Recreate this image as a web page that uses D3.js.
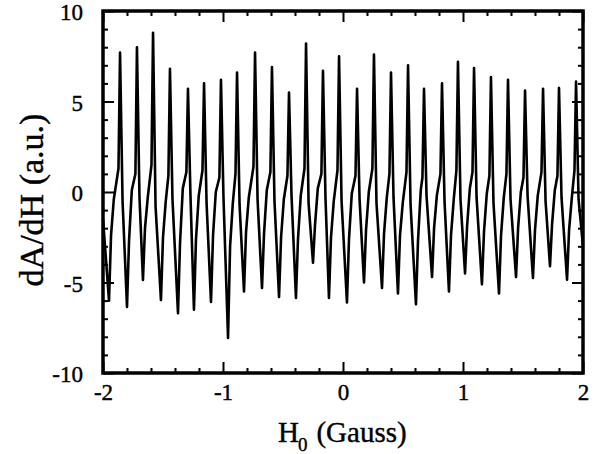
<!DOCTYPE html>
<html lang="en">
<head>
<meta charset="UTF-8">
<title>dA/dH vs H0</title>
<script src="https://d3js.org/d3.v7.min.js"></script>
<style>
    body {
        margin: 0;
        background: #fff;
    }

    #chart text {
        font-family: "Liberation Serif", "Times New Roman", serif;
        fill: #000;
        stroke: #000;
        stroke-width: 0.4px;
    }
</style>
</head>
<body>
<svg id="chart" width="599" height="454"></svg>
<script>
    // spikes: positive peaks and negative troughs
    var peakH = [-1.858, -1.717, -1.583, -1.442, -1.292, -1.158, -1.017, -0.883, -0.733, -0.592,
        -0.450, -0.308, -0.167, -0.033, 0.117, 0.258, 0.400, 0.542, 0.675, 0.825,
        0.958, 1.092, 1.233, 1.375, 1.517, 1.667, 1.800, 1.942];
    var peakV = [7.7, 8.0, 8.8, 6.8, 5.7, 6.0, 6.2, 6.6, 7.7, 6.9,
        5.5, 8.2, 6.7, 7.5, 5.7, 7.6, 6.6, 7.0, 5.7, 6.0,
        7.2, 6.85, 6.35, 6.2, 5.6, 5.7, 5.75, 6.1];
    var troughH = [-1.950, -1.800, -1.667, -1.517, -1.375, -1.242, -1.100, -0.958, -0.825, -0.675,
        -0.533, -0.392, -0.250, -0.117, 0.033, 0.175, 0.325, 0.458, 0.608, 0.742,
        0.883, 1.017, 1.158, 1.300, 1.442, 1.583, 1.725, 1.867];
    var troughV = [-6.0, -6.35, -4.86, -5.97, -6.7, -6.5, -6.08, -8.07, -5.5, -5.3,
        -5.8, -5.85, -3.9, -5.85, -6.1, -5.0, -5.3, -5.6, -6.2, -4.7,
        -5.5, -4.5, -5.1, -5.6, -4.7, -4.75, -4.1, -4.85];

    // smaller features between spikes
    var descentH = [-1.837, -1.696, -1.562, -1.421, -1.271, -1.137, -0.996, -0.862, -0.712, -0.571,
        -0.429, -0.287, -0.146, -0.012, 0.138, 0.279, 0.421, 0.563, 0.696, 0.846,
        0.979, 1.113, 1.254, 1.396, 1.538, 1.688, 1.821, 1.963];
    var descentV = [-0.5, -0.3, -0.8, -0.4, -0.2, -0.6, -0.3, -0.7, -0.4, -0.5,
        -0.2, -0.6, -0.3, -0.5, -0.4, -0.6, -0.3, -0.7, -0.2, -0.5,
        -0.4, -0.3, -0.6, -0.4, -0.2, -0.5, -0.3, -0.4];
    var kneeH = [-1.933, -1.783, -1.650, -1.500, -1.358, -1.225, -1.083, -0.941, -0.808, -0.658,
        -0.516, -0.375, -0.233, -0.100, 0.050, 0.192, 0.342, 0.475, 0.625, 0.759,
        0.900, 1.034, 1.175, 1.317, 1.459, 1.600, 1.742, 1.884];
    var kneeV = [-2.4, -2.7, -2.0, -2.5, -2.8, -2.6, -2.4, -3.0, -2.2, -2.3,
        -2.5, -2.6, -1.8, -2.5, -2.6, -2.1, -2.3, -2.4, -2.7, -2.0,
        -2.4, -1.9, -2.2, -2.4, -2.0, -2.1, -1.8, -2.1];
    var shoulderH = [-1.910, -1.760, -1.627, -1.477, -1.335, -1.202, -1.060, -0.918, -0.785, -0.635,
        -0.493, -0.352, -0.210, -0.077, 0.073, 0.215, 0.365, 0.498, 0.648, 0.782,
        0.923, 1.057, 1.198, 1.340, 1.482, 1.623, 1.765, 1.907];
    var shoulderV = [-0.4, 0.1, -0.3, -0.5, 0.2, -0.2, 0.0, -0.6, -0.3, 0.1,
        -0.4, -0.2, 0.2, -0.5, -0.1, 0.0, -0.3, -0.6, 0.1, -0.2,
        -0.4, 0.2, -0.1, -0.3, 0.0, -0.2, 0.1, -0.3];
    var riseH = [-1.871, -1.730, -1.596, -1.455, -1.305, -1.171, -1.030, -0.896, -0.746, -0.605,
        -0.463, -0.321, -0.180, -0.046, 0.104, 0.245, 0.387, 0.529, 0.662, 0.812,
        0.945, 1.079, 1.220, 1.362, 1.504, 1.654, 1.787, 1.929];
    var riseV = [1.3, 1.0, 1.5, 0.9, 1.1, 1.2, 0.8, 1.0, 1.4, 1.1,
        0.9, 1.3, 1.0, 1.2, 0.9, 1.3, 1.0, 1.1, 0.8, 1.0,
        1.2, 1.1, 0.9, 1.0, 0.8, 1.1, 0.9, 1.2];
    var endH = [-2.0, 2.0];
    var endV = [-1.5, -3.0];

    var xMajorTicks = [-2, -1, 0, 1, 2];
    var xMinorTicks = [-1.8, -1.6, -1.4, -1.2, -0.8, -0.6, -0.4, -0.2, 0.2, 0.4, 0.6, 0.8, 1.2, 1.4, 1.6, 1.8];
    var yMajorTicks = [-10, -5, 0, 5, 10];
    var yMinorTicks = [-9, -8, -7, -6, -4, -3, -2, -1, 1, 2, 3, 4, 6, 7, 8, 9];

    (function () {
        var plotLeft = 103, plotRight = 583, plotTop = 11, plotBottom = 373;
        var svg = d3.select('#chart');
        var x = d3.scaleLinear().domain([-2, 2]).range([plotLeft, plotRight]);
        var y = d3.scaleLinear().domain([-10, 10]).range([plotBottom, plotTop]);

        function pairs(hs, vs) {
            return hs.map(function (h, i) {
                return [h, vs[i]];
            });
        }

        var trace = [].concat(
            pairs(endH, endV), pairs(peakH, peakV), pairs(troughH, troughV),
            pairs(descentH, descentV), pairs(kneeH, kneeV),
            pairs(shoulderH, shoulderV), pairs(riseH, riseV)
        ).sort(function (a, b) {
            return a[0] - b[0];
        });

        svg.append('path')
            .datum(trace)
            .attr('fill', 'none')
            .attr('stroke', '#000')
            .attr('stroke-width', 2.6)
            .attr('stroke-linejoin', 'round')
            .attr('d', d3.line()
                .x(function (d) { return x(d[0]); })
                .y(function (d) { return y(d[1]); }));

        // ticks on all four sides, pointing inward
        function ticks(axis, values, size, pos, labelled, pad) {
            var g = svg.append('g')
                .attr('transform', pos)
                .call(axis.tickValues(values).tickSize(-size).tickPadding(pad || 0)
                    .tickFormat(labelled ? function (d) { return String(d); } : ''));
            g.select('.domain').remove();
            g.selectAll('line').attr('stroke', '#000').attr('stroke-width', 2);
            g.selectAll('text').attr('font-size', 23).attr('font-family', null);
            return g;
        }

        ticks(d3.axisBottom(x), xMinorTicks, 5, 'translate(0,' + plotBottom + ')');
        ticks(d3.axisTop(x), xMinorTicks, 5, 'translate(0,' + plotTop + ')');
        ticks(d3.axisLeft(y), yMinorTicks, 5, 'translate(' + plotLeft + ',0)');
        ticks(d3.axisRight(y), yMinorTicks, 5, 'translate(' + plotRight + ',0)');
        ticks(d3.axisBottom(x), xMajorTicks, 11, 'translate(0,' + plotBottom + ')', true, 11);
        ticks(d3.axisTop(x), xMajorTicks, 11, 'translate(0,' + plotTop + ')');
        ticks(d3.axisLeft(y), yMajorTicks, 11, 'translate(' + plotLeft + ',0)', true, 20)
            .selectAll('text').attr('dy', '0.38em');
        ticks(d3.axisRight(y), yMajorTicks, 11, 'translate(' + plotRight + ',0)');

        svg.append('rect')
            .attr('x', plotLeft)
            .attr('y', plotTop)
            .attr('width', plotRight - plotLeft)
            .attr('height', plotBottom - plotTop)
            .attr('fill', 'none')
            .attr('stroke', '#000')
            .attr('stroke-width', 3.5);

        // axis titles
        var xt = svg.append('text')
            .attr('x', 278)
            .attr('y', 442)
            .attr('font-size', 29);
        xt.append('tspan').text('H');
        xt.append('tspan').attr('font-size', 19).attr('dy', 9).attr('dx', -1).text('0');
        xt.append('tspan').attr('dy', -9).attr('dx', 9).text('(Gauss)');

        svg.append('text')
            .attr('transform', 'translate(43,200) rotate(-90)')
            .attr('text-anchor', 'middle')
            .attr('font-size', 34)
            .text('dA/dH (a.u.)');
    })();
</script>
</body>
</html>
